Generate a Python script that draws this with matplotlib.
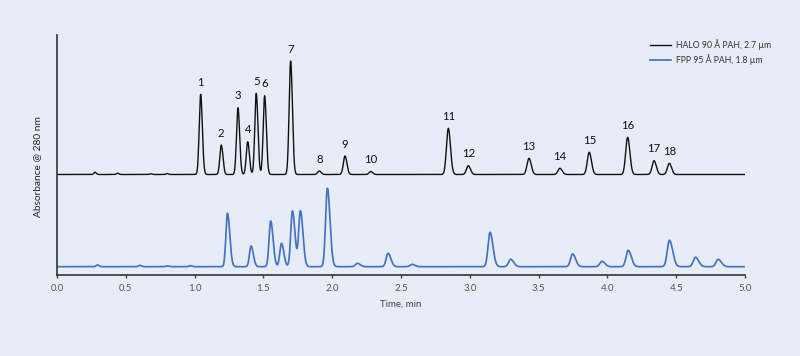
import numpy as np
import matplotlib
matplotlib.use("Agg")
import matplotlib.pyplot as plt

# Peak tables (retention time in min, height in
# axis units, width as gaussian sigma in min).
halo_times = [0.276, 0.44, 0.68, 0.80,
              1.044, 1.194, 1.315, 1.386, 1.448, 1.509, 1.698, 1.906, 2.093,
              2.280, 2.844, 2.989, 3.430, 3.655, 3.868, 4.147, 4.339, 4.450]
halo_heights = [2.3, 1.3, 0.7, 1.0,
                80.2, 29.5, 66.8, 32.8, 81.2, 78.8, 113.5, 3.5, 18.5,
                3.0, 46.2, 8.8, 16.2, 6.2, 22.2, 37.2, 13.8, 11.2]
halo_widths = [0.008, 0.008, 0.008, 0.008,
               0.0105, 0.0105, 0.0105, 0.0105, 0.0105, 0.0105, 0.011, 0.012, 0.012,
               0.012, 0.0135, 0.0135, 0.014, 0.014, 0.014, 0.014, 0.014, 0.014]
halo_labels = ["", "", "", "",
               "1", "2", "3", "4", "5", "6", "7", "8", "9",
               "10", "11", "12", "13", "14", "15", "16", "17", "18"]

fpp_times = [0.293, 0.60, 0.80, 0.967,
             1.239, 1.410, 1.553, 1.631, 1.711, 1.769, 1.965, 2.183, 2.406,
             2.580, 3.147, 3.297, 3.747, 3.960, 4.151, 4.451, 4.640, 4.805]
fpp_heights = [1.7, 1.3, 0.7, 1.0,
               53.4, 20.7, 45.7, 23.4, 55.7, 55.7, 78.4, 3.4, 13.4,
               2.4, 34.4, 7.4, 12.7, 5.4, 16.4, 26.4, 9.4, 7.4]
fpp_widths = [0.009, 0.009, 0.009, 0.009,
              0.0115, 0.0115, 0.012, 0.012, 0.0125, 0.0125, 0.013, 0.014, 0.014,
              0.014, 0.0145, 0.015, 0.015, 0.015, 0.0155, 0.016, 0.016, 0.016]

halo_baseline = 100.5
fpp_baseline = 8.3

x_ticks = [0.0, 0.5, 1.0, 1.5, 2.0, 2.5, 3.0, 3.5, 4.0, 4.5, 5.0]


def trace(t, times, heights, widths, tail=1.0):
    y = np.zeros_like(t)
    for c, h, s in zip(times, heights, widths):
        sig = np.where(t < c, s, s * tail)
        y += h * np.exp(-0.5 * ((t - c) / sig) ** 2)
    return y


t = np.linspace(0, 5, 6000)
halo = halo_baseline + trace(t, halo_times, halo_heights, halo_widths, tail=1.15)
fpp = fpp_baseline + trace(t, fpp_times, fpp_heights, fpp_widths, tail=1.45)

bg = "#e7edf6"
plt.rcParams["font.family"] = ["Lato", "DejaVu Sans"]

fig = plt.figure(figsize=(8, 3.56), dpi=100, facecolor=bg)
ax = fig.add_axes([57 / 800, 1 - 275 / 356, 688 / 800, 240 / 356])
ax.set_facecolor(bg)

ax.plot(t, halo, color="#111111", lw=1.0, label="HALO 90 Å PAH, 2.7 µm")
ax.plot(t, fpp, color="#4472c4", lw=1.25, label="FPP 95 Å PAH, 1.8 µm")

for c, h, lab in zip(halo_times, halo_heights, halo_labels):
    if lab:
        ax.annotate(lab, xy=(c, halo_baseline + h), xytext=(0, 4.5),
                    textcoords="offset points", ha="center", va="bottom",
                    fontsize=8.2, color="#111111")

ax.set_xlim(0, 5)
ax.set_ylim(0, 240)
ax.set_xticks(x_ticks)
ax.set_xticklabels([f"{v:.1f}" for v in x_ticks])
ax.set_yticks([])
ax.tick_params(axis="x", length=2.5, width=1, color="#404040",
               labelsize=7, labelcolor="#555555", pad=4)
for side in ("top", "right"):
    ax.spines[side].set_visible(False)
for side in ("left", "bottom"):
    ax.spines[side].set_color("#333333")
    ax.spines[side].set_linewidth(1.2)

ax.set_xlabel("Time, min", fontsize=7, color="#444444", labelpad=5)
ax.set_ylabel("Absorbance @ 280 nm", fontsize=7.3, color="#222222")
ax.yaxis.set_label_coords(-0.022, 0.45)

ax.legend(loc="upper left", bbox_to_anchor=(0.851, 1.015), frameon=False,
          fontsize=6.2, handlelength=2.4, handletextpad=0.6,
          labelspacing=0.45, labelcolor="#333333")

plt.savefig("out.png", dpi=100, facecolor=bg)
plt.close()
